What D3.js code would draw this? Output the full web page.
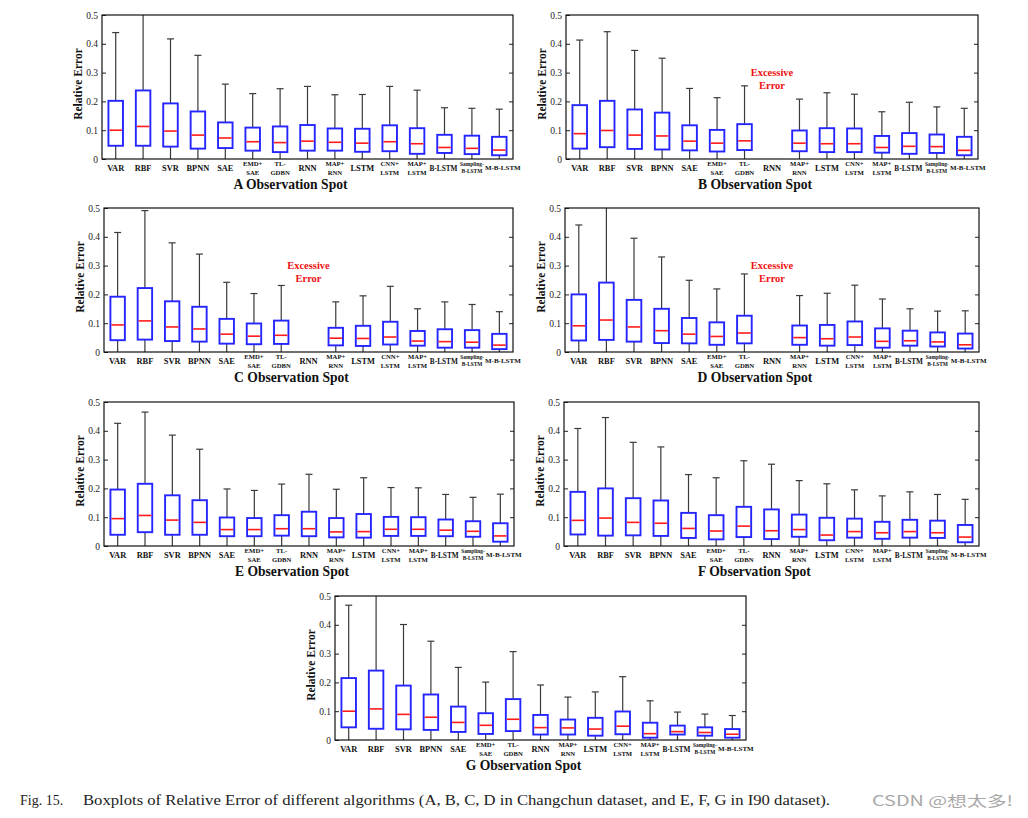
<!DOCTYPE html>
<html><head><meta charset="utf-8">
<script src="https://cdn.jsdelivr.net/npm/d3@7/dist/d3.min.js"></script>
<style>body{margin:0;background:#fff} svg{display:block}</style>
</head><body>
<svg id="chart" width="1028" height="818"></svg>
<script>
// ---------------- DATA ----------------
const categories = ["VAR","RBF","SVR","BPNN","SAE","EMD+\nSAE","TL-\nGDBN","RNN","MAP+\nRNN","LSTM","CNN+\nLSTM","MAP+\nLSTM","B-LSTM","Sampling-\nB-LSTM","M-B-LSTM"];
const yTicks = [0, 0.1, 0.2, 0.3, 0.4, 0.5];
const panelNames = ["A","B","C","D","E","F","G"];
const panelTitles = ["A Observation Spot","B Observation Spot","C Observation Spot","D Observation Spot","E Observation Spot","F Observation Spot","G Observation Spot"];
const yLabel = "Relative Error";
const missingNote = ["Excessive","Error"];
const caption1 = "Fig. 15.";
const caption2 = "Boxplots of Relative Error of different algorithms (A, B, C, D in Changchun dataset, and E, F, G in I90 dataset).";
const watermark = "CSDN @想太多!";

// Panel A
const A_high = [0.439,0.55,0.417,0.360,0.260,0.227,0.244,0.252,0.223,0.224,0.252,0.239,0.178,0.176,0.173];
const A_q3   = [0.202,0.238,0.193,0.165,0.127,0.109,0.113,0.118,0.106,0.105,0.117,0.107,0.084,0.081,0.077];
const A_med  = [0.100,0.113,0.097,0.083,0.073,0.060,0.057,0.062,0.058,0.055,0.060,0.053,0.040,0.037,0.031];
const A_q1   = [0.046,0.046,0.043,0.036,0.038,0.029,0.024,0.029,0.029,0.025,0.027,0.018,0.021,0.017,0.013];
const A_low  = [0,0,0,0,0,0,0,0,0,0,0,0,0,0,0];
// Panel B (RNN: excessive error)
const B_high = [0.413,0.442,0.377,0.350,0.245,0.213,0.254,null,0.208,0.230,0.225,0.164,0.197,0.181,0.176];
const B_q3   = [0.187,0.202,0.172,0.161,0.117,0.101,0.121,null,0.099,0.107,0.106,0.080,0.090,0.085,0.077];
const B_med  = [0.088,0.099,0.083,0.080,0.062,0.055,0.063,null,0.055,0.053,0.053,0.040,0.044,0.043,0.030];
const B_q1   = [0.036,0.041,0.035,0.033,0.030,0.026,0.031,null,0.027,0.024,0.024,0.022,0.018,0.021,0.013];
const B_low  = [0,0,0,0,0,0,0,null,0,0,0,0,0,0,0];
// Panel C
const C_high = [0.415,0.491,0.379,0.340,0.242,0.203,0.231,null,0.174,0.195,0.228,0.150,0.174,0.165,0.140];
const C_q3   = [0.192,0.222,0.176,0.157,0.115,0.099,0.109,null,0.084,0.091,0.105,0.073,0.079,0.076,0.063];
const C_med  = [0.094,0.108,0.087,0.080,0.062,0.055,0.058,null,0.048,0.047,0.052,0.038,0.036,0.034,0.024];
const C_q1   = [0.041,0.043,0.038,0.036,0.029,0.027,0.028,null,0.023,0.021,0.026,0.022,0.015,0.015,0.010];
const C_low  = [0,0,0,0,0,0,0,null,0,0,0,0,0,0,0];
// Panel D
const D_high = [0.441,0.55,0.395,0.330,0.249,0.219,0.271,null,0.196,0.204,0.232,0.184,0.150,0.142,0.143];
const D_q3   = [0.200,0.241,0.181,0.150,0.118,0.103,0.126,null,0.092,0.094,0.106,0.082,0.074,0.068,0.064];
const D_med  = [0.091,0.111,0.087,0.074,0.062,0.054,0.066,null,0.050,0.046,0.052,0.037,0.039,0.035,0.025];
const D_q1   = [0.040,0.042,0.036,0.031,0.030,0.025,0.030,null,0.025,0.022,0.024,0.015,0.022,0.019,0.012];
const D_low  = [0,0,0,0,0,0,0,null,0,0,0,0,0,0,0];
// Panel E
const E_high = [0.426,0.465,0.385,0.336,0.198,0.193,0.215,0.249,0.197,0.237,0.203,0.202,0.179,0.169,0.180];
const E_q3   = [0.196,0.216,0.176,0.159,0.099,0.097,0.107,0.119,0.097,0.111,0.101,0.100,0.092,0.086,0.079];
const E_med  = [0.095,0.106,0.090,0.082,0.057,0.057,0.060,0.060,0.049,0.050,0.058,0.058,0.055,0.051,0.035];
const E_q1   = [0.039,0.048,0.039,0.039,0.034,0.034,0.036,0.034,0.030,0.029,0.035,0.035,0.034,0.032,0.015];
const E_low  = [0,0,0,0,0,0,0,0,0,0,0,0,0,0,0];
// Panel F
const F_high = [0.408,0.446,0.360,0.344,0.248,0.237,0.296,0.284,0.227,0.216,0.195,0.174,0.188,0.179,0.162];
const F_q3   = [0.188,0.200,0.166,0.158,0.115,0.107,0.136,0.127,0.109,0.098,0.095,0.084,0.091,0.088,0.073];
const F_med  = [0.089,0.097,0.082,0.079,0.061,0.052,0.069,0.053,0.057,0.038,0.050,0.046,0.050,0.046,0.031];
const F_q1   = [0.040,0.036,0.037,0.035,0.028,0.023,0.031,0.024,0.032,0.020,0.029,0.025,0.029,0.028,0.013];
const F_low  = [0,0,0,0,0,0,0,0,0,0,0,0,0,0,0];
// Panel G
const G_high = [0.468,0.55,0.401,0.343,0.252,0.201,0.307,0.191,0.149,0.167,0.220,0.136,0.097,0.090,0.085];
const G_q3   = [0.215,0.241,0.189,0.158,0.116,0.093,0.142,0.087,0.071,0.077,0.099,0.060,0.050,0.044,0.038];
const G_med  = [0.100,0.108,0.089,0.079,0.061,0.051,0.072,0.043,0.042,0.038,0.048,0.022,0.029,0.026,0.020];
const G_q1   = [0.044,0.039,0.037,0.035,0.028,0.021,0.031,0.019,0.019,0.015,0.020,0.008,0.019,0.015,0.008];
const G_low  = [0,0,0,0,0,0,0,0,0,0,0,0,0,0,0];

const panelData = {
  A:{high:A_high,q3:A_q3,med:A_med,q1:A_q1,low:A_low},
  B:{high:B_high,q3:B_q3,med:B_med,q1:B_q1,low:B_low},
  C:{high:C_high,q3:C_q3,med:C_med,q1:C_q1,low:C_low},
  D:{high:D_high,q3:D_q3,med:D_med,q1:D_q1,low:D_low},
  E:{high:E_high,q3:E_q3,med:E_med,q1:E_q1,low:E_low},
  F:{high:F_high,q3:F_q3,med:F_med,q1:F_q1,low:F_low},
  G:{high:G_high,q3:G_q3,med:G_med,q1:G_q1,low:G_low}
};

// ---------------- LAYOUT ----------------
const layout = {
  A:{left:102,right:513,top:15,bottom:159},
  B:{left:566,right:978,top:15,bottom:159},
  C:{left:104,right:513,top:208,bottom:352},
  D:{left:565,right:979,top:208,bottom:352},
  E:{left:104,right:514,top:402,bottom:546},
  F:{left:564,right:979,top:402,bottom:546},
  G:{left:335,right:746,top:596,bottom:740}
};
const SERIF = "'Liberation Serif','Times New Roman',serif";

const svg = d3.select("#chart");
const defs = svg.append("defs");

panelNames.forEach((name, pi) => {
  const L = layout[name];
  const d = panelData[name];
  const x = d3.scalePoint().domain(categories).range([L.left, L.right]).padding(0.5);
  const y = d3.scaleLinear().domain([0, 0.5]).range([L.bottom, L.top]);
  const step = x.step();
  const boxW = step * 0.53;
  const capW = 7;

  const g = svg.append("g").attr("class", "panel-" + name);

  defs.append("clipPath").attr("id", "clip" + name)
    .append("rect").attr("x", L.left).attr("y", L.top)
    .attr("width", L.right - L.left).attr("height", L.bottom - L.top);

  const rows = categories.map((c, i) => ({
    c, high: d.high[i], q3: d.q3[i], med: d.med[i], q1: d.q1[i], low: d.low[i]
  })).filter(r => r.q3 !== null);

  const marks = g.append("g").attr("clip-path", "url(#clip" + name + ")");

  // upper whisker
  marks.selectAll(".wu").data(rows).join("line")
    .attr("x1", r => x(r.c)).attr("x2", r => x(r.c))
    .attr("y1", r => y(r.q3)).attr("y2", r => y(r.high))
    .attr("stroke", "#3a3a3a").attr("stroke-width", 1.2);
  marks.selectAll(".cu").data(rows).join("line")
    .attr("x1", r => x(r.c) - capW / 2).attr("x2", r => x(r.c) + capW / 2)
    .attr("y1", r => y(r.high)).attr("y2", r => y(r.high))
    .attr("stroke", "#3a3a3a").attr("stroke-width", 1.2);
  // lower whisker
  marks.selectAll(".wl").data(rows).join("line")
    .attr("x1", r => x(r.c)).attr("x2", r => x(r.c))
    .attr("y1", r => y(r.q1)).attr("y2", r => y(r.low))
    .attr("stroke", "#3a3a3a").attr("stroke-width", 1.2);
  // box
  marks.selectAll(".box").data(rows).join("rect")
    .attr("x", r => x(r.c) - boxW / 2).attr("width", boxW)
    .attr("y", r => y(r.q3)).attr("height", r => y(r.q1) - y(r.q3))
    .attr("fill", "none").attr("stroke", "#2525ff").attr("stroke-width", 1.9);
  // median
  marks.selectAll(".med").data(rows).join("line")
    .attr("x1", r => x(r.c) - boxW / 2 + 1).attr("x2", r => x(r.c) + boxW / 2 - 1)
    .attr("y1", r => y(r.med)).attr("y2", r => y(r.med))
    .attr("stroke", "#ff1a1a").attr("stroke-width", 1.6);

  // axes
  const fmt = v => v === 0 ? "0" : d3.format(".1f")(v);
  const ax = g.append("g").attr("transform", `translate(${L.left},0)`)
    .call(d3.axisLeft(y).tickValues(yTicks).tickSize(-4).tickPadding(4).tickFormat(fmt));
  ax.select(".domain").remove();
  ax.selectAll("text").attr("font-family", SERIF).attr("font-size", 9.5).attr("fill", "#222");
  ax.selectAll("line").attr("stroke", "#222");
  const axr = g.append("g").attr("transform", `translate(${L.right},0)`)
    .call(d3.axisRight(y).tickValues(yTicks.slice(1, -1)).tickSize(-4).tickFormat(""));
  axr.select(".domain").remove();
  axr.selectAll("line").attr("stroke", "#222");

  g.append("rect").attr("x", L.left).attr("y", L.top)
    .attr("width", L.right - L.left).attr("height", L.bottom - L.top)
    .attr("fill", "none").attr("stroke", "#111").attr("stroke-width", 1.2);

  // category labels
  categories.forEach(c => {
    const lines = c.split("\n");
    let fs, offs, dx = 0;
    if (c.startsWith("Sampling")) { fs = 5.4; offs = [5, 12.3]; }
    else if (lines.length === 2) { fs = 6.7; offs = [4.5, 13.6]; }
    else if (c === "M-B-LSTM") { fs = 7.0; offs = [9]; dx = 3.5; }
    else if (c.length > 4) { fs = 7.3; offs = [9]; dx = -1; }
    else { fs = 8.4; offs = [9]; }
    lines.forEach((t, k) => {
      g.append("text").attr("x", x(c) + dx).attr("y", L.bottom + offs[k])
        .attr("text-anchor", "middle").attr("dominant-baseline", "central")
        .attr("font-family", SERIF).attr("font-weight", "bold")
        .attr("font-size", fs).attr("fill", "#111").text(t);
    });
  });

  // y label
  const cy = (L.top + L.bottom) / 2 - 3;
  g.append("text").attr("transform", `translate(${L.left - 24},${cy}) rotate(-90)`)
    .attr("text-anchor", "middle").attr("dominant-baseline", "central")
    .attr("font-family", SERIF).attr("font-weight", "bold").attr("font-size", 11.5)
    .attr("fill", "#111").text(yLabel);

  // title
  g.append("text").attr("x", (L.left + L.right) / 2 - 17).attr("y", L.bottom + 25.5)
    .attr("text-anchor", "middle").attr("dominant-baseline", "central")
    .attr("font-family", SERIF).attr("font-weight", "bold").attr("font-size", 13.6)
    .attr("fill", "#111").text(panelTitles[pi]);

  // excessive error note for missing categories
  categories.forEach((c, i) => {
    if (d.q3[i] === null) {
      missingNote.forEach((t, k) => {
        g.append("text").attr("x", x(c)).attr("y", L.top + 57.5 + k * 12.5)
          .attr("text-anchor", "middle").attr("dominant-baseline", "central")
          .attr("font-family", SERIF).attr("font-weight", "bold").attr("font-size", 10.5)
          .attr("fill", "#ee1111").text(t);
      });
    }
  });
});

// caption
svg.append("text").attr("x", 20).attr("y", 805)
  .attr("font-family", SERIF).attr("font-size", 14).attr("fill", "#222").text(caption1);
svg.append("text").attr("x", 83).attr("y", 805)
  .attr("font-family", SERIF).attr("font-size", 14).attr("fill", "#222")
  .attr("textLength", 747).attr("lengthAdjust", "spacingAndGlyphs").text(caption2);
svg.append("text").attr("x", 872).attr("y", 806)
  .attr("font-family", "'Noto Sans CJK SC','Noto Sans',sans-serif").attr("font-size", 14)
  .attr("fill", "#a8a8a8").attr("textLength", 141).attr("lengthAdjust", "spacingAndGlyphs").text(watermark);
</script>
</body></html>
